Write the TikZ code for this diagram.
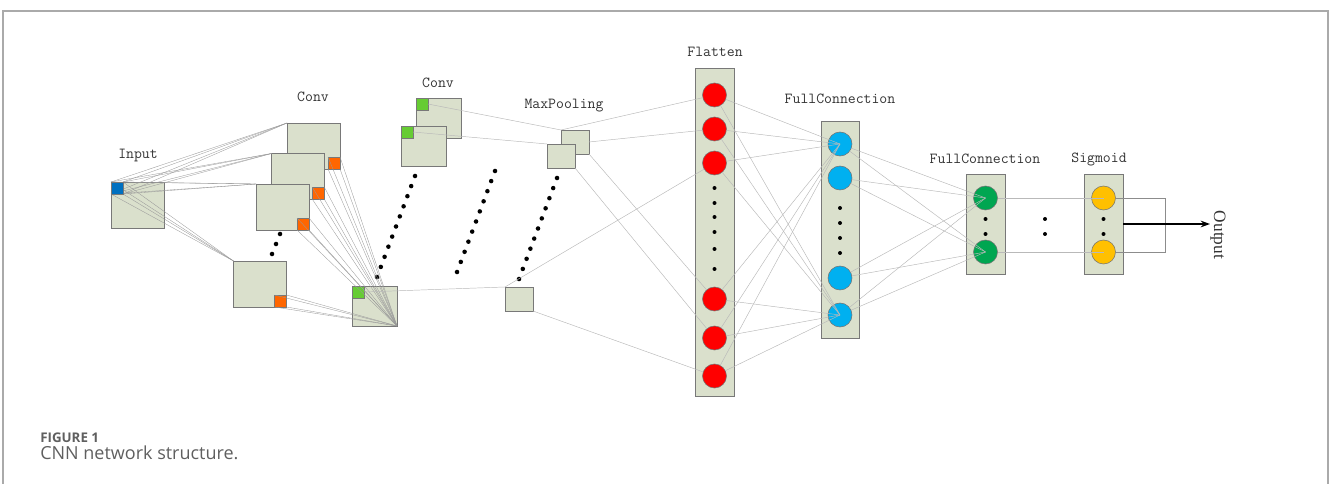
\documentclass[tikz,border=0pt]{standalone}
\usepackage{fontspec}
\newfontfamily\outfont{Liberation Serif}
\newfontfamily\capfont{Open Sans}
\usetikzlibrary{arrows.meta}
\definecolor{boxfill}{RGB}{218,224,204}
\definecolor{boxline}{RGB}{120,120,120}
\definecolor{inblue}{RGB}{0,112,192}
\definecolor{orng}{RGB}{255,102,0}
\definecolor{lgreen}{RGB}{102,204,51}
\definecolor{nred}{RGB}{255,0,0}
\definecolor{nblue}{RGB}{0,176,240}
\definecolor{ngreen}{RGB}{0,166,81}
\definecolor{nyellow}{RGB}{255,192,0}
\definecolor{linkc}{RGB}{185,185,185}
\definecolor{framec}{RGB}{170,170,170}
\definecolor{capc}{RGB}{95,95,95}
\begin{document}
\begin{tikzpicture}[x=0.75pt,y=-0.75pt,
 wh/.style 2 args={minimum width=#1*0.75pt, minimum height=#2*0.75pt},
 sqbox/.style={draw=boxline, fill=boxfill, line width=0.6pt, inner sep=0pt, outer sep=0pt},
 kern/.style={draw=boxline, line width=0.4pt, inner sep=0pt, outer sep=0pt, wh={12}{12}},
 neuron/.style={circle, draw=black!55, line width=0.4pt, inner sep=0pt, outer sep=0pt, minimum size=18pt},
 colbox/.style={draw=boxline, fill=boxfill, line width=0.6pt, inner sep=0pt, outer sep=0pt},
 lbl/.style={font=\ttfamily\fontsize{11.5}{13}\selectfont, text=black!80, inner sep=0pt},
 link/.style={draw=linkc, line width=0.35pt},
 klink/.style={draw=black!40, line width=0.25pt},
 blackdot/.style={fill=black},
]
\useasboundingbox (0,0) rectangle (1330,484);
\draw[framec, line width=1pt] (3,484) -- (3,11) -- (1328,11) -- (1328,484);

% input
\node[sqbox, wh={53}{46}] (inp) at (137.5,205) {};
\node[lbl] (linp) at (138,156) {Input};

% conv 1
\node[sqbox, wh={53}{46}] (c1) at (313.5,146) {};
\node[kern, fill=orng] (o1) at (334,163) {};
\node[sqbox, wh={53}{46}] (c2) at (298,176.5) {};
\node[kern, fill=orng] (o2) at (318.5,193.5) {};
\node[sqbox, wh={53}{46}] (c3) at (282.5,207) {};
\node[kern, fill=orng] (o3) at (303,224) {};
\node[sqbox, wh={53}{46}] (c4) at (260,284) {};
\node[kern, fill=orng] (o4) at (280.5,301) {};
\node[lbl] (lc1) at (313,97) {Conv};

% conv 2
\node[sqbox, wh={45}{40}] (cA) at (438.5,118) {};
\node[kern, fill=lgreen] (gA) at (422,104) {};
\node[sqbox, wh={45}{40}] (cB) at (423.5,146) {};
\node[kern, fill=lgreen] (gB) at (407,132) {};
\node[sqbox, wh={45}{40}] (cD) at (374.5,306) {};
\node[kern, fill=lgreen] (gD) at (358,292) {};
\node[lbl] (lc2) at (438,83) {Conv};

% pooling
\node[sqbox, wh={28}{24}] (pA) at (575,142) {};
\node[sqbox, wh={28}{24}] (pB) at (561,156) {};
\node[sqbox, wh={28}{24}] (pC) at (519,299) {};
\node[lbl] (lpool) at (564,106) {MaxPooling};

% flatten
\node[colbox, wh={39}{328}] (fl) at (714.5,232) {};
\foreach \n/\y in {1/95,2/129,3/163,4/299,5/338,6/376}
  \node[neuron, fill=nred] (r\n) at (714.5,\y) {};
\node[lbl] (lfl) at (715,52) {Flatten};

% full connection 1
\node[colbox, wh={38}{217}] (fc1) at (840,229.5) {};
\foreach \n/\y in {1/144,2/178,3/278,4/315}
  \node[neuron, fill=nblue] (b\n) at (840,\y) {};
\node[lbl] (lfc1) at (840,99) {FullConnection};

% full connection 2
\node[colbox, wh={39}{100}] (fc2) at (985.5,224) {};
\node[neuron, fill=ngreen] (g1) at (985.5,198) {};
\node[neuron, fill=ngreen] (g2) at (985.5,252) {};
\node[lbl] (lfc2) at (985,159) {FullConnection};

% sigmoid
\node[colbox, wh={39}{100}] (sg) at (1103.5,224) {};
\node[neuron, fill=nyellow] (y1) at (1103.5,198) {};
\node[neuron, fill=nyellow] (y2) at (1103.5,252) {};
\node[lbl] (lsg) at (1099,159) {Sigmoid};

% dots
\foreach \i in {0,...,10} {
  \fill[blackdot] ({415-3.8*\i},{176+10.1*\i}) circle (1.7pt);
  \fill[blackdot] ({495-3.8*\i},{171+10.1*\i}) circle (1.7pt);
  \fill[blackdot] ({557-3.8*\i},{178+10.1*\i}) circle (1.7pt);
}
\foreach \p in {(280,234),(276,244),(272,254)} \fill[blackdot] \p circle (1.7pt);
\foreach \y in {188,203,217,232,249,269} \fill[blackdot] (714.5,\y) circle (1.5pt);
\foreach \y in {208,223,238,253} \fill[blackdot] (840,\y) circle (1.5pt);
\foreach \x in {985.5,1045,1103.5} {
  \fill[blackdot] (\x,219) circle (1.5pt);
  \fill[blackdot] (\x,234) circle (1.5pt);
}

% input kernel and its fan to conv1
\coordinate (k1) at (111,182);
\coordinate (k2) at (123,182);
\coordinate (k3) at (111,194);
\coordinate (k4) at (123,194);
\foreach \t in {c1,c2,c3,c4}
  \foreach \a in {k1,k2,k3,k4}
    \draw[klink] (\a) -- (\t.north west);
\node[kern, fill=inblue] (inb) at (117,188) {};

% conv1 -> conv2
\foreach \o in {o1,o2,o3,o4}
  \foreach \a in {north west,north east,south west,south east}
    \draw[klink] (\o.\a) -- (cD.south east);
% conv2 -> pool
\draw[link] (gA.east) -- (pA.north west);
\draw[link] (gB.east) -- (pB.north west);
\draw[link] (gD.east) -- (pC.north west);
% pool -> flatten
\draw[link] (pA.north west) -- (r1);
\draw[link] (pA.east) -- (r2);
\draw[link] (pA.south east) -- (r4);
\draw[link] (pB.south east) -- (r5);
\draw[link] (pC.north west) -- (r3);
\draw[link] (pC.south east) -- (r6);
% flatten -> fc1
\foreach \i in {1,...,6} {
  \draw[link] (r\i) -- (b1.center);
  \draw[link] (r\i) -- (b4.center);
}
% fc1 -> fc2
\foreach \i in {1,...,4}
  \foreach \j in {1,2}
    \draw[link] (b\i) -- (g\j.center);
% fc2 -> sigmoid
\draw[link] (g1) -- (y1.center);
\draw[link] (g2) -- (y2.center);

% output
\coordinate (ob1) at (1165,198);
\coordinate (ob2) at (1165,252);
\coordinate (outp) at (1210,224);
\draw[draw=black!45, line width=0.5pt] (y1.east) -- (ob1) -- (ob2) -- (y2.east);
\draw[-{Stealth[length=7pt,width=5pt]}, line width=1.2pt] (sg.east) -- (outp);
\node[rotate=-90, font=\outfont\fontsize{13}{15}\selectfont, text=black!80, inner sep=0pt] (lout) at (1218,235) {Output};

% caption
\node[anchor=base west, inner sep=0pt, font=\capfont\bfseries\fontsize{10}{12}\selectfont, text=capc] (fig) at (40,442) {FIGURE 1};
\node[anchor=base west, inner sep=0pt, font=\capfont\fontsize{13.5}{16}\selectfont, text=capc] (cap) at (40,459) {CNN network structure.};
\end{tikzpicture}
\end{document}
